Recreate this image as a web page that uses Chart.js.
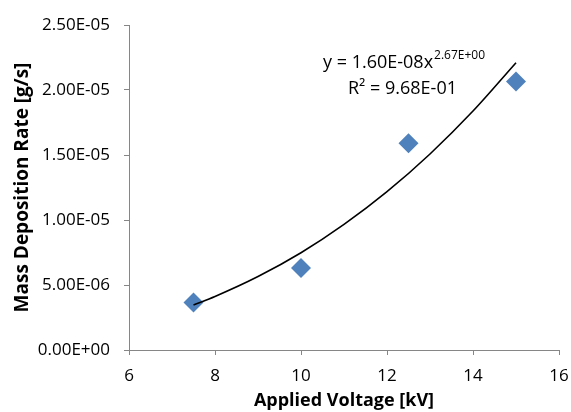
<!DOCTYPE html>
<html><head><meta charset="utf-8">
<script src="https://cdn.jsdelivr.net/npm/chart.js@4"></script>
<style>html,body{margin:0;padding:0;background:#fff}#wrap{width:571px;height:412px}</style>
</head><body><div id="wrap"><canvas id="c" width="571" height="412"></canvas></div>
<script>
const voltage = [7.5, 10, 12.5, 15];
const depositionRate = [3.65e-6, 6.3e-6, 1.59e-5, 2.065e-5];
const trendX = [7.5, 8, 9, 10, 11, 12, 13, 14, 15];
const trendY = [3.47e-6, 4.12e-6, 5.65e-6, 7.48e-6, 9.66e-6, 1.218e-5, 1.508e-5, 1.838e-5, 2.21e-5];
const xTicks = [6, 8, 10, 12, 14, 16];
const yTicks = [0, 5e-6, 1e-5, 1.5e-5, 2e-5, 2.5e-5];
const eqMain = "y = 1.60E-08x";
const eqSup = "2.67E+00";
const r2Text = "R² = 9.68E-01";

function fmtE(v){
  if (v === 0) return "0.00E+00";
  let e = Math.floor(Math.log10(Math.abs(v)) + 1e-9);
  let m = v / Math.pow(10, e);
  if (Math.abs(m) >= 9.995) { m /= 10; e += 1; }
  const s = e < 0 ? "-" : "+";
  const ae = Math.abs(e);
  return m.toFixed(2) + "E" + s + (ae < 10 ? "0" + ae : ae);
}

const FONT = "'Open Sans', 'Liberation Sans', Arial, sans-serif";
const axisGray = "#868686";

const eqPlugin = {
  id: 'eq',
  afterDraw(chart){
    const ctx = chart.ctx;
    ctx.save();
    ctx.fillStyle = "#000";
    ctx.textBaseline = "alphabetic";
    ctx.font = "18px " + FONT;
    const x0 = 323, y0 = 68;
    ctx.textAlign = "left";
    ctx.fillText(eqMain, x0, y0);
    const w = ctx.measureText(eqMain).width;
    ctx.font = "12px " + FONT;
    ctx.fillText(eqSup, x0 + w + 1, y0 - 9);
    ctx.font = "18px " + FONT;
    ctx.fillText(r2Text, 348, 94);
    ctx.restore();
  }
};

new Chart(document.getElementById('c'), {
  type: 'scatter',
  data: {
    datasets: [
      {
        label: 'data',
        data: voltage.map((v, i) => ({x: v, y: depositionRate[i]})),
        pointStyle: 'rectRot',
        pointRadius: 10,
        pointHoverRadius: 10,
        backgroundColor: '#4F81BD',
        borderColor: '#4F81BD',
        borderWidth: 0,
        order: 2
      },
      {
        label: 'trend',
        type: 'line',
        data: trendX.map((v, i) => ({x: v, y: trendY[i]})),
        borderColor: '#000',
        borderWidth: 1.6,
        pointRadius: 0,
        fill: false,
        cubicInterpolationMode: 'monotone',
        order: 1
      }
    ]
  },
  options: {
    responsive: false,
    animation: false,
    events: [],
    layout: { padding: { top: 25, right: 12, left: 11, bottom: 0 } },
    plugins: { legend: { display: false }, tooltip: { enabled: false } },
    scales: {
      x: {
        type: 'linear',
        min: 6, max: 16,
        afterBuildTicks(s){ s.ticks = xTicks.map(v => ({value: v})); },
        afterFit(s){ s.height = 62; s.paddingRight = 0; s.paddingLeft = 0; },
        grid: { display: true, drawOnChartArea: false, drawTicks: true, tickLength: 5, color: axisGray },
        border: { color: axisGray, width: 1 },
        ticks: { color: '#000', font: { family: FONT, size: 17 }, padding: 11, maxRotation: 0 },
        title: { display: true, text: 'Applied Voltage [kV]', color: '#000', font: { family: FONT, size: 18, weight: 'bold' }, padding: { top: 0, bottom: 0 } }
      },
      y: {
        type: 'linear',
        min: 0, max: 2.5e-5,
        afterBuildTicks(s){ s.ticks = yTicks.map(v => ({value: v})); },
        afterFit(s){ s.width = 118; s.paddingTop = 0; s.paddingBottom = 0; },
        grid: { display: true, drawOnChartArea: false, drawTicks: true, tickLength: 5, color: axisGray },
        border: { color: axisGray, width: 1 },
        ticks: { color: '#000', font: { family: FONT, size: 17 }, padding: 14, callback: v => fmtE(v) },
        title: { display: true, text: 'Mass Deposition Rate [g/s]', color: '#000', font: { family: FONT, size: 19, weight: 'bold' }, padding: { top: 0, bottom: 0 } }
      }
    }
  },
  plugins: [eqPlugin]
});
</script>
</body></html>
